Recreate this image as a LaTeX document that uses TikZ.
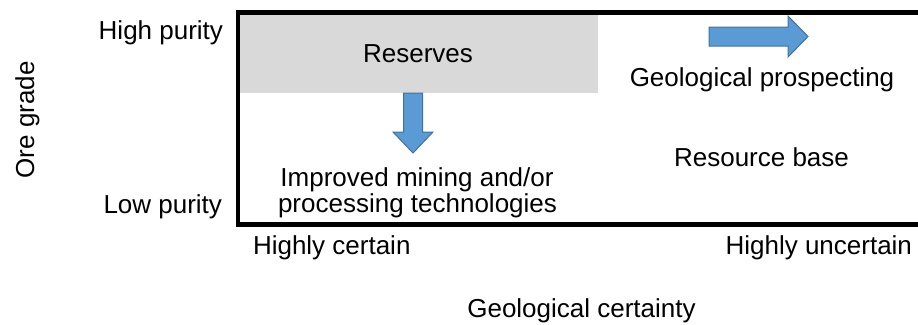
\documentclass[tikz,border=0pt]{standalone}
\usepackage{fontspec}
\setmainfont{Liberation Sans}
\definecolor{boxgray}{RGB}{217,217,217}
\definecolor{arrowfill}{RGB}{91,155,213}
\definecolor{arrowline}{RGB}{65,113,156}
\begin{document}
\begin{tikzpicture}[x=1bp,y=-1bp,
  lbl/.style={inner sep=0pt,outer sep=0pt,font=\fontsize{26bp}{31bp}\selectfont},
  blockarrow/.style={fill=arrowfill,draw=arrowline,line width=1bp,line join=miter}]
\useasboundingbox (0,0) rectangle (918,324);

% shaded reserves region
\fill[boxgray] (240,15) rectangle (598,92.5);

% frame of the grade/certainty field
\draw[line width=4.5bp] (918,12.5) -- (238,12.5) -- (238,224.5) -- (918,224.5);

% block arrows
\draw[blockarrow] (403.5,93) -- (422.5,93) -- (422.5,132) -- (433,132)
  -- (413,153) -- (393,132) -- (403.5,132) -- cycle;
\draw[blockarrow] (709,27) -- (788,27) -- (788,16) -- (808,36.5)
  -- (788,57) -- (788,46) -- (709,46) -- cycle;

% labels inside the field
\node[lbl,anchor=base] (res) at (418,62.5) {Reserves};
\node[lbl,anchor=base] (geo) at (762,86) {Geological prospecting};
\node[lbl,anchor=base] (base) at (761.5,166.5) {Resource base};
\node[lbl,anchor=base] (imp1) at (417,186) {Improved mining and/or};
\node[lbl,anchor=base] (imp2) at (417.5,212) {processing technologies};

% axis labels
\node[lbl,anchor=base east] (hp) at (223,39) {High purity};
\node[lbl,anchor=base east] (lp) at (222,213) {Low purity};
\node[lbl,anchor=base,rotate=90] (ore) at (34,120) {Ore grade};
\node[lbl,anchor=base west] (hc) at (253,254.5) {Highly certain};
\node[lbl,anchor=base east] (hu) at (912,254.5) {Highly uncertain};
\node[lbl,anchor=base] (gc) at (581.5,317) {Geological certainty};
\end{tikzpicture}
\end{document}
